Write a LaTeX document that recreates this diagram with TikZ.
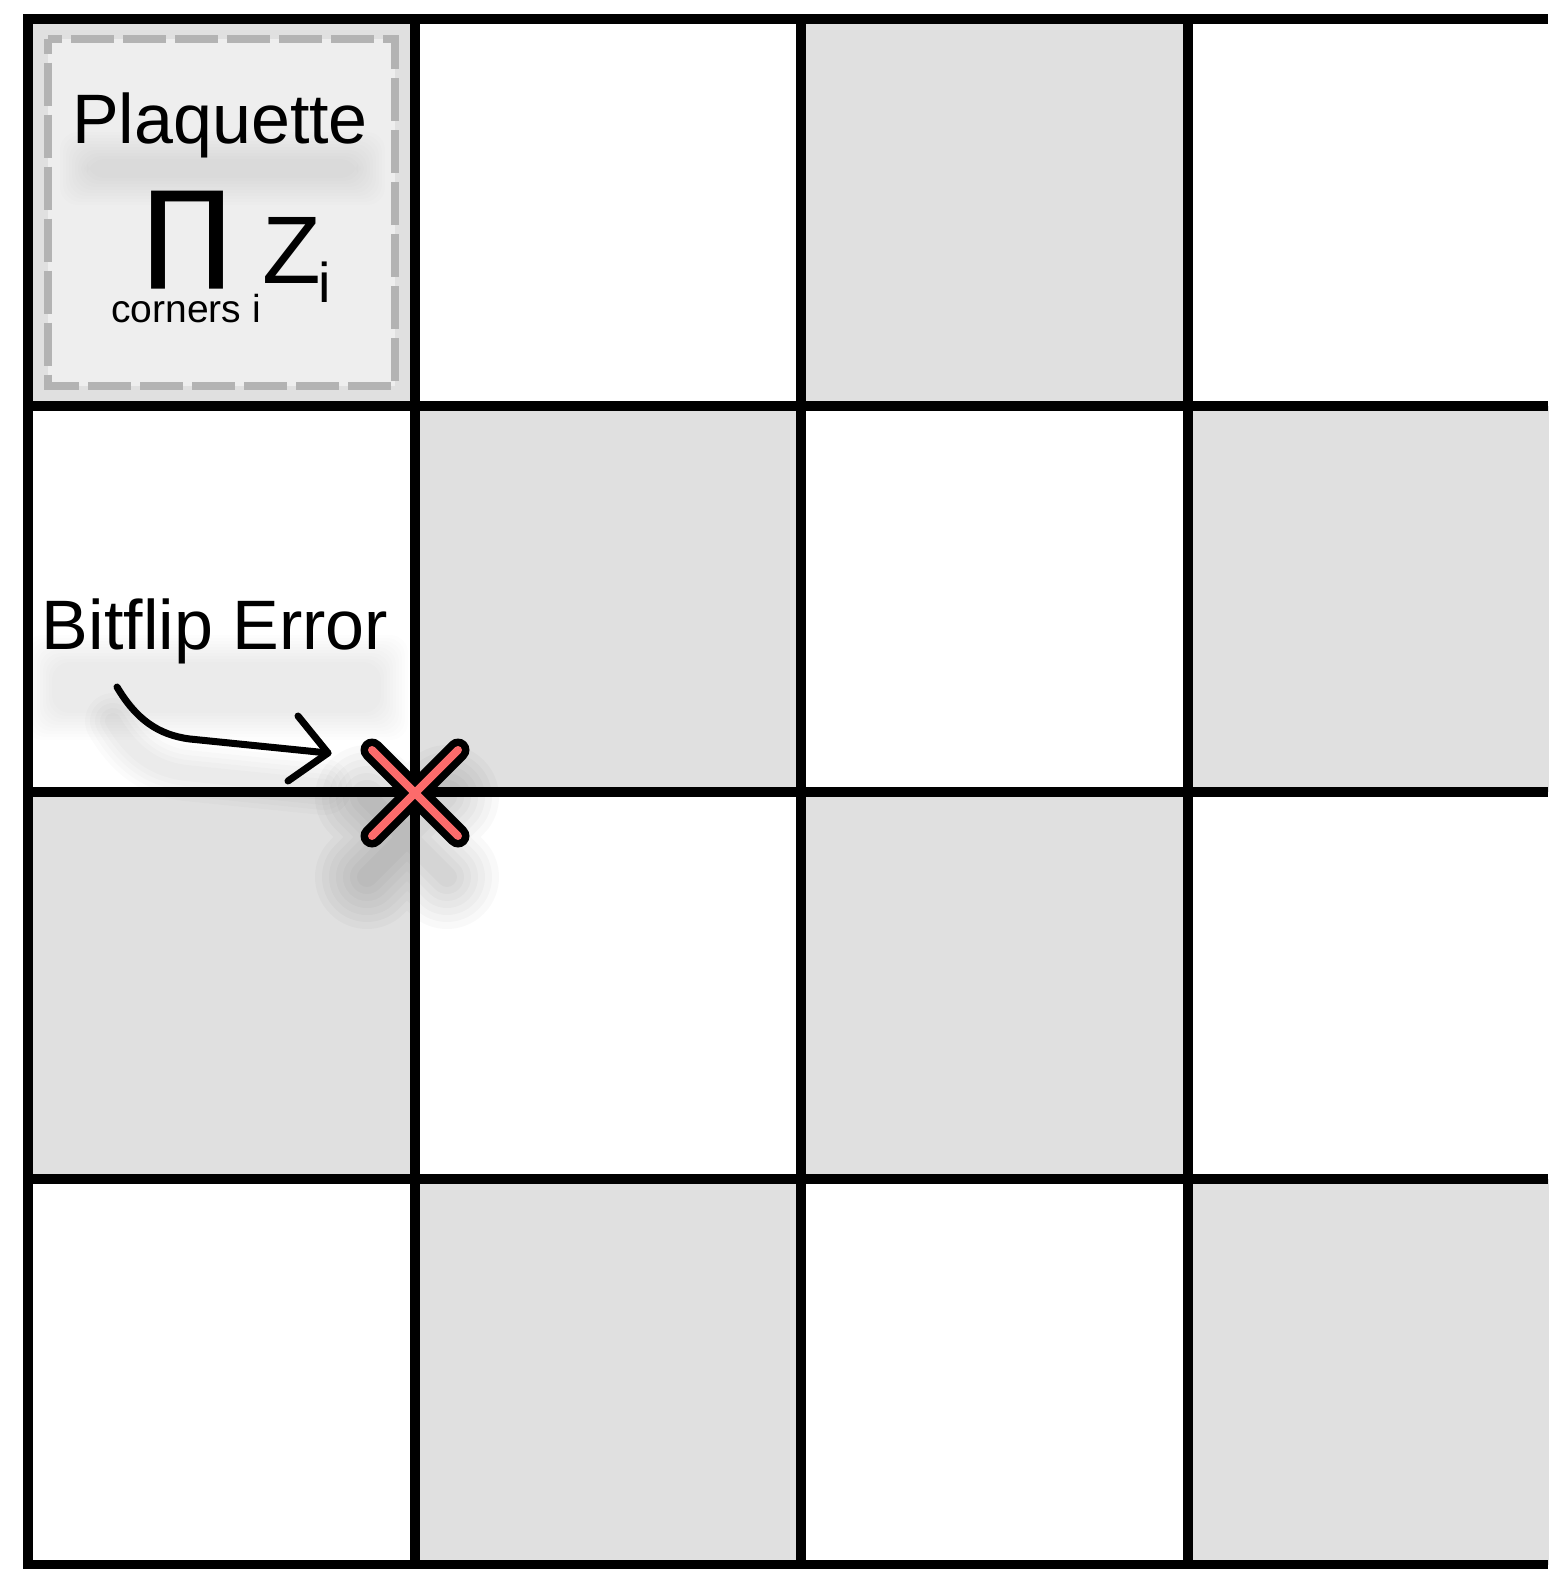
\documentclass[tikz,border=0pt]{standalone}
\usepackage{fontspec}
\setmainfont{Liberation Sans}
\newfontfamily\symfont{DejaVu Sans}
\usepackage{graphicx}
\definecolor{cellgrey}{HTML}{E0E0E0}
\definecolor{plaqfill}{HTML}{EEEEEE}
\definecolor{dashgrey}{HTML}{B3B3B3}
\definecolor{errred}{HTML}{FC6B6B}
% soft shadow: nested rounded rectangles of low opacity
\newcommand{\softrect}[5]{%
  \foreach \k in {0,...,9}{%
    \fill[black, opacity=#5, rounded corners=18pt]
      ({#1+3*\k},{#2+3*\k}) rectangle ({#3-3*\k},{#4-3*\k});
  }}
\begin{document}
\begin{tikzpicture}[x=1pt,y=-1pt,
  gridline/.style={line width=10pt, black},
  cellfill/.style={fill=cellgrey},
  plaqbox/.style={draw=dashgrey, fill=plaqfill, line width=8pt, dash pattern=on 43pt off 9pt, dash phase=28pt},
  biglbl/.style={inner sep=0pt, anchor=base, font=\fontsize{70}{70}\selectfont},
  pointer/.style={line width=7pt, line cap=round, line join=round, black},
  shadowstroke/.style={line cap=round, line join=round, black},
  xouter/.style={line width=23pt, line cap=round, black},
  xinner/.style={line width=8pt, line cap=round, errred}]
\useasboundingbox (0,0) rectangle (1548,1569);
\fill[white] (0,0) rectangle (1548,1569);
% checkerboard cells
\foreach \c/\r in {0/0,2/0,1/1,3/1,0/2,2/2,1/3,3/3}
  \path[cellfill] ({28+386.5*\c},{19+386.5*\r}) rectangle ++(386.5,386.5);
% plaquette highlight
\path[plaqbox] (47.5,38.5) rectangle (395,386);
% coordinates
\coordinate (err) at (415,793);
\coordinate (as) at (117,687);
\coordinate (ae) at (328,753);
% shadows
\softrect{60}{132}{385}{205}{0.008}
\softrect{25}{635}{408}{740}{0.006}
\begin{scope}[transform canvas={shift={(-4,34)}}]
\foreach \w in {56,46,36,26,16}
  \draw[shadowstroke, line width=\w pt, opacity=0.016]
    (as) .. controls (136,719) and (158,735) .. (190,739) -- (ae);
\end{scope}
\begin{scope}[transform canvas={shift={(-8,44)}}]
\foreach \w in {104,90,76,62,48,34,20}
  \draw[shadowstroke, line width=\w pt, opacity=0.022]
    ([shift={(-40,-40)}]err) -- ([shift={(40,40)}]err)
    ([shift={(40,-40)}]err) -- ([shift={(-40,40)}]err);
\end{scope}
% grid lines
\foreach \y in {19,405.5,792,1178.5,1565}
  \draw[gridline] (23,\y) -- (1548,\y);
\foreach \x in {28,414.5,801,1187.5}
  \draw[gridline] (\x,14) -- (\x,1569);
% plaquette labels
\node[biglbl] (plaq) at (220,143) {Plaquette};
\node[anchor=north west, inner sep=0pt] (prod) at (142,191) {\resizebox*{90pt}{98pt}{\symfont ∏}};
\node[anchor=base west, inner sep=0pt, font=\fontsize{96}{96}\selectfont] (zed) at (262,283) {Z};
\node[anchor=base west, inner sep=0pt, font=\fontsize{56}{56}\selectfont] (zsub) at (318,302) {i};
\node[anchor=base west, inner sep=0pt, font=\fontsize{39}{39}\selectfont] (corn) at (111,322) {corners i};
% bitflip label and pointer
\node[biglbl] (bit) at (215,649) {Bitflip Error};
\draw[pointer] (as) .. controls (136,719) and (158,735) .. (190,739) -- (ae);
\draw[pointer] (298,716) -- (ae) -- (288,781);
% error cross
\draw[xouter] ([shift={(-43,-43)}]err) -- ([shift={(43,43)}]err)
              ([shift={(43,-43)}]err) -- ([shift={(-43,43)}]err);
\draw[xinner] ([shift={(-43,-43)}]err) -- ([shift={(43,43)}]err)
              ([shift={(43,-43)}]err) -- ([shift={(-43,43)}]err);
\end{tikzpicture}
\end{document}
